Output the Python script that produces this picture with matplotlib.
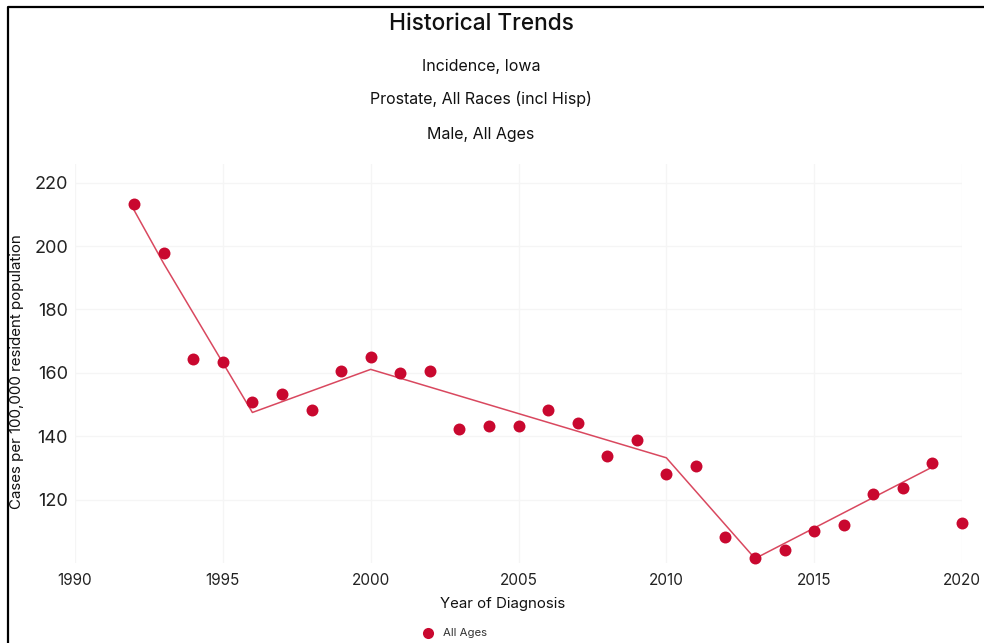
import matplotlib.pyplot as plt
from matplotlib.lines import Line2D

# Datos observados (tasa por 100,000)
years = [1992, 1993, 1994, 1995, 1996, 1997, 1998, 1999, 2000, 2001, 2002,
         2003, 2004, 2005, 2006, 2007, 2008, 2009, 2010, 2011, 2012, 2013,
         2014, 2015, 2016, 2017, 2018, 2019, 2020]
rates = [213.3, 197.7, 164.3, 163.4, 150.7, 153.4, 148.2, 160.5, 165.1, 159.8, 160.5,
         142.4, 143.2, 143.3, 148.4, 144.1, 133.8, 138.8, 128.1, 130.5, 108.1, 101.6,
         104.2, 110.0, 112.0, 121.9, 123.8, 131.5, 112.5]

# Tendencia (joinpoints)
trend_years = [1992, 1993, 1996, 2000, 2010, 2013, 2019]
trend_rates = [211.3, 194.5, 147.5, 161.1, 133.2, 101.4, 130.3]

x_ticks = [1990, 1995, 2000, 2005, 2010, 2015, 2020]
y_ticks = [120, 140, 160, 180, 200, 220]

plt.rcParams['font.family'] = ['Inter', 'DejaVu Sans']

fig = plt.figure(figsize=(9.84, 6.43), dpi=100)
ax = fig.add_axes([75 / 984, 1 - 563 / 643, (962 - 75) / 984, (563 - 163.7) / 643])

ax.plot(trend_years, trend_rates, color='#d9485f', lw=1.1, zorder=2)
ax.plot(years, rates, 'o', color='#c9082f', ms=8.6, mec='none', zorder=3, clip_on=False)

ax.set_xlim(1990, 2020)
ax.set_ylim(100, 226)
ax.set_xticks(x_ticks)
ax.set_yticks(y_ticks)
ax.tick_params(length=0, colors='#222222')
ax.tick_params(axis='x', pad=7, labelsize=11)
ax.tick_params(axis='y', pad=5, labelsize=13)
for s in ax.spines.values():
    s.set_visible(False)
ax.grid(True, color='#f5f5f5', lw=1)
ax.set_axisbelow(True)

# Títulos
cx = 481 / 984
fig.text(cx, 1 - 24 / 643, 'Historical Trends', ha='center', va='center',
         fontsize=16.3, fontweight='medium', color='#111111')
for txt, py in [('Incidence, Iowa', 66), ('Prostate, All Races (incl Hisp)', 99),
                ('Male, All Ages', 135)]:
    fig.text(cx, 1 - py / 643, txt, ha='center', va='center', fontsize=11.5, color='#111111')

fig.text(17 / 984, 1 - 372 / 643, 'Cases per 100,000 resident population', rotation=90,
         ha='center', va='center', fontsize=10.9, color='#111111')
fig.text(503 / 984, 1 - 604 / 643, 'Year of Diagnosis', ha='center', va='center',
         fontsize=10.8, color='#111111')

# Leyenda
fig.add_artist(Line2D([428 / 984], [1 - 633 / 643], marker='o', color='#c9082f',
                      ms=8, mec='none', transform=fig.transFigure))
fig.text(443 / 984, 1 - 633 / 643, 'All Ages', ha='left', va='center', fontsize=8.2,
         color='#333333')

# Borde
fig.add_artist(Line2D([8 / 984, 8 / 984, 1], [0, 1 - 7 / 643, 1 - 7 / 643], color='black',
                      lw=1.6, transform=fig.transFigure))

fig.savefig('out.png', dpi=100)
